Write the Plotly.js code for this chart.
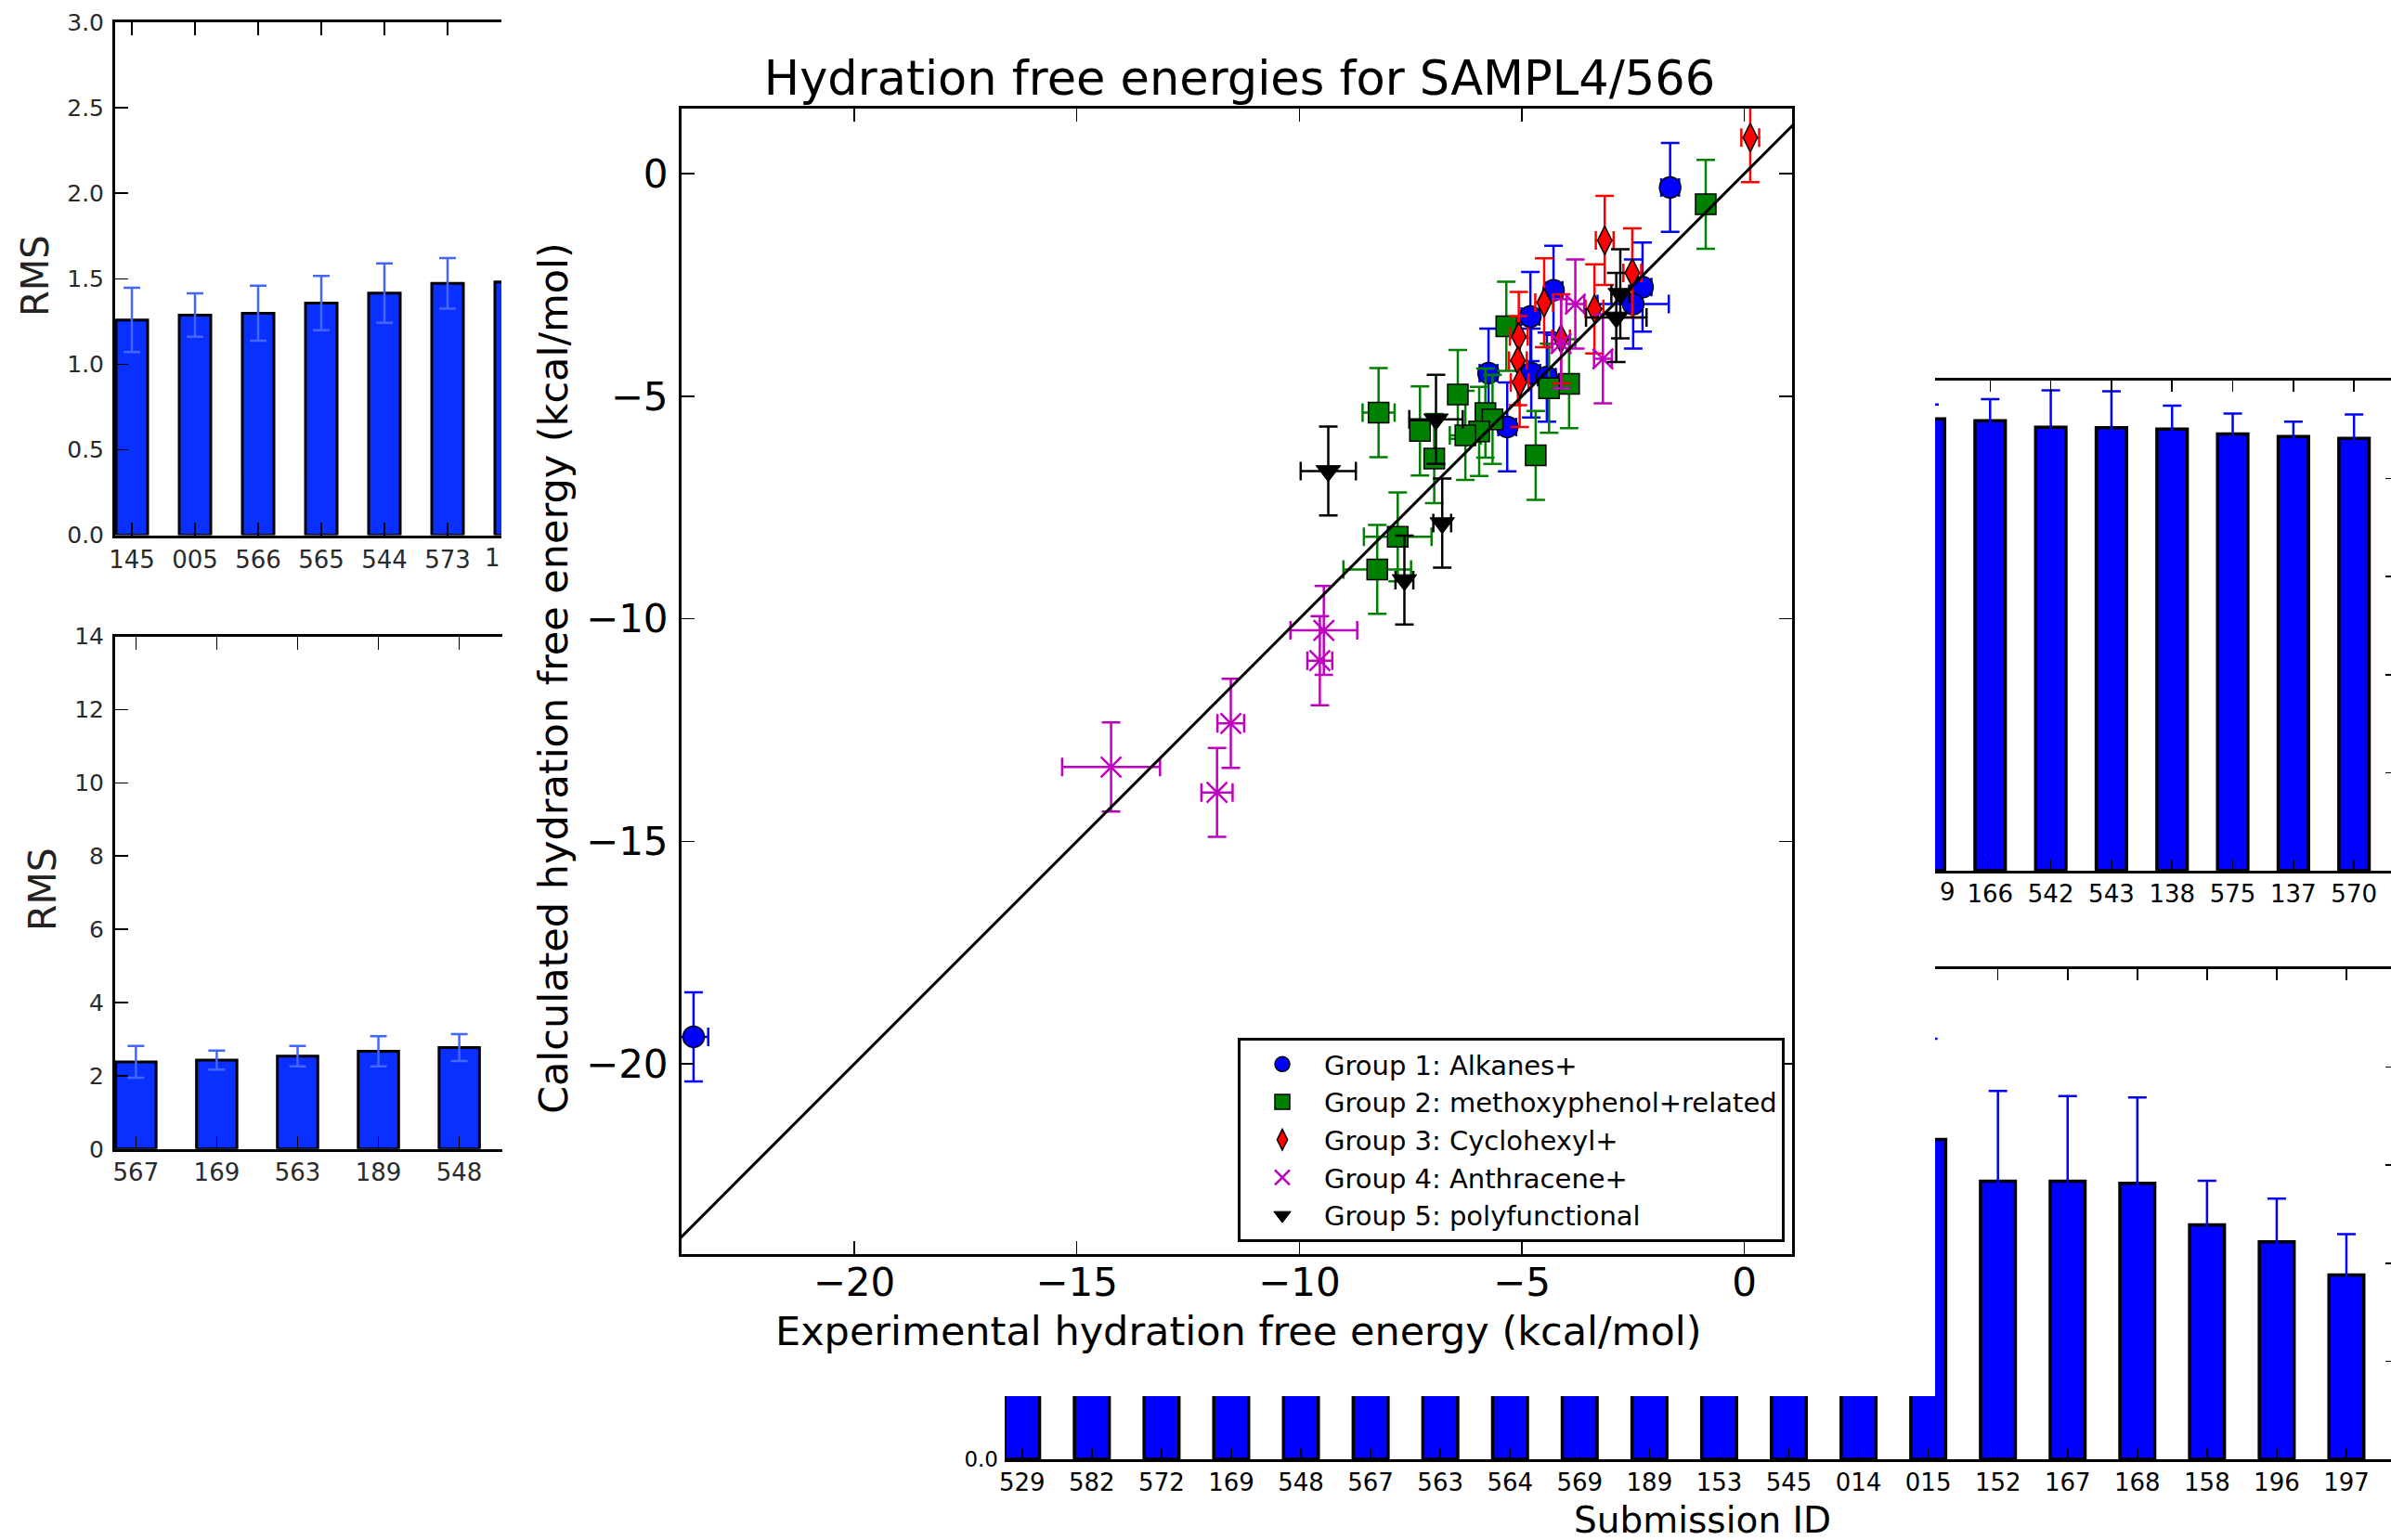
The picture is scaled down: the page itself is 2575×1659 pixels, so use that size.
<!DOCTYPE html>
<html>
<head>
<meta charset="utf-8">
<script src="https://cdn.plot.ly/plotly-3.0.1.min.js"></script>
<style>html,body{margin:0;padding:0;background:#fff}#chart{width:2575px;height:1659px}</style>
</head>
<body>
<div id="chart"></div>
<script>
// ---------------- DATA ----------------
// Top-left panel (RMS)
const rmsA_ids = ['145', '005', '566', '565', '544', '573', '1'];
const rmsA_vals = [1.259, 1.287, 1.298, 1.357, 1.416, 1.473, 1.481];
const rmsA_err = [0.188, 0.127, 0.161, 0.159, 0.174, 0.148, 0.247];

// Middle-left panel (RMS)
const rmsB_ids = ['567', '169', '563', '189', '548'];
const rmsB_vals = [2.38, 2.43, 2.535, 2.67, 2.77];
const rmsB_err = [0.435, 0.26, 0.28, 0.41, 0.365];

// Right-top panel
const panelC_ids = ['179', '166', '542', '543', '138', '575', '137', '570'];
const panelC_vals = [0.922, 0.918, 0.905, 0.904, 0.901, 0.891, 0.886, 0.882];
const panelC_err = [0.029, 0.044, 0.075, 0.074, 0.048, 0.042, 0.030, 0.049];

// Bottom chart (Submission ID)
const subIds = ['529', '582', '572', '169', '548', '567', '563', '564', '569', '189',
                '153', '545', '014', '015', '152', '167', '168', '158', '196', '197'];
const subVals = [2.35, 2.2, 2.1, 2.05, 2.0, 1.95, 1.9, 1.85, 1.8, 1.78,
                 1.75, 1.72, 1.68, 1.631, 1.418, 1.418, 1.407, 1.196, 1.109, 0.940];
const subErr = [0.3, 0.3, 0.3, 0.3, 0.3, 0.3, 0.3, 0.3, 0.3, 0.3,
                0.3, 0.3, 0.3, 0.514, 0.461, 0.435, 0.438, 0.224, 0.220, 0.208];

// Partially cut tick-label fragments visible at the cropped panel edges
const cutLabelA = '1';
const cutLabelC = '9';

// Central scatter: hydration free energies (experimental x, calculated y)
const g1_exp = [-1.67, -2.29, -2.50, -4.29, -4.81, -5.75, -4.79, -4.44, -5.33, -23.61];
const g1_calc = [-0.31, -2.55, -2.93, -2.62, -3.21, -4.48, -4.48, -4.57, -5.69, -19.39];
const g1_expErr = [0.2, 0.2, 0.8, 0.2, 0.2, 0.2, 0.2, 0.2, 0.2, 0.33];
const g1_calcErr = [1.0, 1.0, 1.0, 1.0, 1.0, 1.0, 1.0, 1.0, 1.0, 1.0];

const g2_exp = [-0.87, -5.35, -3.94, -4.39, -6.44, -8.22, -7.29, -6.97, -5.82, -5.66, -5.96, -6.27, -4.69, -7.79, -8.25];
const g2_calc = [-0.69, -3.43, -4.72, -4.82, -4.96, -5.37, -5.78, -6.40, -5.38, -5.52, -5.79, -5.88, -6.33, -8.16, -8.89];
const g2_expErr = [0.2, 0.2, 0.2, 0.2, 0.2, 0.36, 0.2, 0.2, 0.2, 0.2, 0.2, 0.35, 0.2, 0.76, 0.76];
const g2_calcErr = [1.0, 1.0, 1.0, 1.0, 1.0, 1.0, 1.0, 1.0, 1.0, 1.0, 1.0, 1.0, 1.0, 1.0, 1.0];

const g3_exp = [0.13, -3.14, -2.52, -3.37, -4.50, -5.07, -5.09, -5.05, -4.12];
const g3_calc = [0.81, -1.50, -2.23, -3.04, -2.90, -3.66, -4.20, -4.69, -3.71];
const g3_expErr = [0.2, 0.2, 0.2, 0.2, 0.2, 0.2, 0.2, 0.2, 0.2];
const g3_calcErr = [1.0, 1.0, 1.0, 1.0, 1.0, 1.0, 1.0, 1.0, 1.0];

const g4_exp = [-3.80, -3.18, -4.12, -14.23, -11.54, -11.85, -9.45, -9.54];
const g4_calc = [-2.93, -4.16, -3.82, -13.33, -12.35, -13.90, -10.26, -10.94];
const g4_expErr = [0.2, 0.2, 0.2, 1.1, 0.3, 0.35, 0.75, 0.28];
const g4_calcErr = [1.0, 1.0, 1.0, 1.0, 1.0, 1.0, 1.0, 1.0];

const g5_exp = [-2.79, -2.88, -6.93, -9.35, -6.79, -7.64];
const g5_calc = [-2.70, -3.23, -5.52, -6.68, -7.85, -9.13];
const g5_expErr = [0.2, 0.68, 0.6, 0.62, 0.2, 0.2];
const g5_calcErr = [1.0, 1.0, 1.0, 1.0, 1.0, 1.0];

const groupNames = ['Group 1: Alkanes+', 'Group 2: methoxyphenol+related', 'Group 3: Cyclohexyl+',
                    'Group 4: Anthracene+', 'Group 5: polyfunctional'];
const diagLine = [-26, 3];

// ---------------- LAYOUT HELPERS ----------------
const W = 2575, H = 1659;
const dx = (a, b) => [a / W, b / W];
const dy = (top, bottom) => [1 - bottom / H, 1 - top / H];
const FONT = 'DejaVu Sans';

function ax(extra) {
  return Object.assign({
    showgrid: false, zeroline: false, showline: true, linecolor: '#000', linewidth: 3,
    ticks: 'inside', tickcolor: '#000', tickwidth: 1.5, ticklen: 12, fixedrange: true,
    tickfont: { family: FONT, size: 26, color: '#000' }
  }, extra);
}

function barTrace(ids, vals, errs, xa, ya, color, errColor, capW, lw) {
  return {
    type: 'bar', x: ids, y: vals, xaxis: xa, yaxis: ya, width: 0.5,
    marker: { color: color, line: { color: '#000', width: lw } },
    error_y: { type: 'data', array: errs, visible: true, color: errColor, thickness: 2.5, width: capW },
    showlegend: false, hoverinfo: 'skip'
  };
}

function groupTrace(name, xs, ys, xe, ye, symbol, size, fill, edge, edgeW, errColor) {
  return {
    type: 'scatter', mode: 'markers', name: name, x: xs, y: ys, xaxis: 'x6', yaxis: 'y6',
    marker: { symbol: symbol, size: size, color: fill, line: { color: edge, width: edgeW } },
    error_x: { type: 'data', array: xe, visible: true, color: errColor, thickness: 2.5, width: 10 },
    error_y: { type: 'data', array: ye, visible: true, color: errColor, thickness: 2.5, width: 10 },
    hoverinfo: 'skip'
  };
}

const blueL = '#0a30ff', errL = '#4466ff';
const traces = [
  // bottom chart, strip part and right part
  barTrace(subIds, subVals, subErr, 'x', 'y', '#0000ff', '#0000ff', 10, 3.5),
  barTrace(subIds, subVals, subErr, 'x2', 'y2', '#0000ff', '#0000ff', 10, 3.5),
  // right-top panel
  barTrace(panelC_ids, panelC_vals, panelC_err, 'x3', 'y3', '#0000ff', '#0000ff', 10, 3.5),
  // left panels
  barTrace(rmsA_ids, rmsA_vals, rmsA_err, 'x4', 'y4', blueL, errL, 9, 3),
  barTrace(rmsB_ids, rmsB_vals, rmsB_err, 'x5', 'y5', blueL, errL, 9, 3),
  // central scatter
  groupTrace(groupNames[0], g1_exp, g1_calc, g1_expErr, g1_calcErr, 'circle', 23, '#0000ff', '#000', 1.5, '#0000ff'),
  groupTrace(groupNames[1], g2_exp, g2_calc, g2_expErr, g2_calcErr, 'square', 22, '#008000', '#000', 1.5, '#008000'),
  groupTrace(groupNames[2], g3_exp, g3_calc, g3_expErr, g3_calcErr, 'diamond-tall', 22, '#ff0000', '#000', 1.5, '#ff0000'),
  groupTrace(groupNames[3], g4_exp, g4_calc, g4_expErr, g4_calcErr, 'x-thin', 22, '#bf00bf', '#bf00bf', 2.5, '#bf00bf'),
  groupTrace(groupNames[4], g5_exp, g5_calc, g5_expErr, g5_calcErr, 'triangle-down', 23, '#000000', '#000', 1, '#000000'),
  {
    type: 'scatter', mode: 'lines', x: diagLine, y: diagLine, xaxis: 'x6', yaxis: 'y6',
    line: { color: '#000', width: 3 }, showlegend: false, hoverinfo: 'skip'
  }
];

const grayTick = { family: FONT, size: 26, color: '#2a2a2a' };

const layout = {
  width: W, height: H,
  margin: { l: 0, r: 0, t: 0, b: 0 },
  paper_bgcolor: '#fff', plot_bgcolor: '#fff',
  font: { family: FONT, color: '#000' },
  showlegend: true,
  title: {
    text: 'Hydration free energies for SAMPL4/566',
    x: 1335 / W, y: 1 - 84 / H, xref: 'paper', yref: 'paper', xanchor: 'center', yanchor: 'middle',
    font: { family: FONT, size: 51, color: '#000' }
  },
  // bottom chart: visible strip
  xaxis: ax({ type: 'category', domain: dx(1082, 2084), range: [-0.25, 13.098], anchor: 'y',
              ticklabelstandoff: 0 }),
  yaxis: ax({ domain: dy(1504, 1572), range: [0, 0.322], anchor: 'x', showline: false, ticks: '',
              tickvals: [0], ticktext: ['0.0'], ticklabelstandoff: 6,
              tickfont: { family: FONT, size: 23, color: '#000' } }),
  // bottom chart: right part
  xaxis2: ax({ type: 'category', domain: dx(2084, 2575), range: [13.098, 19.64], anchor: 'y2',
               mirror: 'ticks', ticklabelstandoff: 0 }),
  yaxis2: ax({ domain: dy(1044, 1572), range: [0, 2.5], dtick: 0.5, anchor: 'x2', side: 'right',
               showline: false, ticklen: 6, showticklabels: false }),
  // right-top panel
  xaxis3: ax({ type: 'category', domain: dx(2084, 2575), range: [0.092, 7.61], anchor: 'y3',
               mirror: 'ticks', ticklabelstandoff: 0 }),
  yaxis3: ax({ domain: dy(410, 938), range: [0, 1.0], dtick: 0.2, anchor: 'x3', side: 'right',
               showline: false, ticklen: 6, showticklabels: false }),
  // top-left panel
  xaxis4: ax({ type: 'category', domain: dx(124, 540), range: [-0.265, 5.853], anchor: 'y4',
               mirror: 'ticks', ticklen: 14, tickfont: grayTick, ticklabelstandoff: 1 }),
  yaxis4: ax({ domain: dy(24, 576.5), range: [0, 3.0], dtick: 0.5, tickformat: '.1f', anchor: 'x4',
               ticklen: 14, tickfont: { family: FONT, size: 25, color: '#2a2a2a' }, ticklabelstandoff: 4 }),
  // middle-left panel
  xaxis5: ax({ type: 'category', domain: dx(124, 541), range: [-0.257, 4.533], anchor: 'y5',
               mirror: 'ticks', ticklen: 14, tickfont: grayTick, ticklabelstandoff: 0 }),
  yaxis5: ax({ domain: dy(685.5, 1237.8), range: [0, 14], dtick: 2, anchor: 'x5',
               ticklen: 14, tickfont: { family: FONT, size: 25, color: '#2a2a2a' }, ticklabelstandoff: 4 }),
  // central scatter
  xaxis6: ax({ domain: dx(734, 1930), range: [-23.88, 1.07], dtick: 5, tick0: 0, anchor: 'y6',
               mirror: 'ticks', ticklen: 14, ticklabelstandoff: -8,
               tickfont: { family: FONT, size: 42, color: '#000' } }),
  yaxis6: ax({ domain: dy(117, 1351), range: [-24.27, 1.46], dtick: 5, tick0: 0, anchor: 'x6',
               mirror: 'ticks', ticklen: 14, ticklabelstandoff: 3,
               tickfont: { family: FONT, size: 42, color: '#000' } }),
  legend: {
    x: 1333 / W, y: 1 - 1118 / H, xanchor: 'left', yanchor: 'top',
    bgcolor: '#fff', bordercolor: '#000', borderwidth: 3,
    font: { family: FONT, size: 29, color: '#000' },
    itemwidth: 80, tracegroupgap: 0
  },
  annotations: [
    { text: 'Experimental hydration free energy (kcal/mol)', x: 1333 / W, y: 1 - 1434 / H,
      xref: 'paper', yref: 'paper', xanchor: 'center', yanchor: 'middle', showarrow: false,
      font: { family: FONT, size: 43, color: '#000' } },
    { text: 'Calculated hydration free energy (kcal/mol)', x: 596 / W, y: 1 - 731 / H, textangle: -90,
      xref: 'paper', yref: 'paper', xanchor: 'center', yanchor: 'middle', showarrow: false,
      font: { family: FONT, size: 43, color: '#000' } },
    { text: 'RMS', x: 38 / W, y: 1 - 297 / H, textangle: -90,
      xref: 'paper', yref: 'paper', xanchor: 'center', yanchor: 'middle', showarrow: false,
      font: { family: FONT, size: 40, color: '#222' } },
    { text: 'RMS', x: 46 / W, y: 1 - 958 / H, textangle: -90,
      xref: 'paper', yref: 'paper', xanchor: 'center', yanchor: 'middle', showarrow: false,
      font: { family: FONT, size: 41, color: '#222' } },
    { text: 'Submission ID', x: 1834 / W, y: 1 - 1637 / H,
      xref: 'paper', yref: 'paper', xanchor: 'center', yanchor: 'middle', showarrow: false,
      font: { family: FONT, size: 39, color: '#000' } },
    { text: cutLabelA, x: 541 / W, y: 1 - 601 / H,
      xref: 'paper', yref: 'paper', xanchor: 'right', yanchor: 'middle', showarrow: false,
      font: { family: FONT, size: 26, color: '#2a2a2a' } },
    { text: cutLabelC, x: 2108 / W, y: 1 - 961 / H,
      xref: 'paper', yref: 'paper', xanchor: 'right', yanchor: 'middle', showarrow: false,
      font: { family: FONT, size: 26, color: '#000' } }
  ]
};

Plotly.newPlot('chart', traces, layout, { staticPlot: true, displayModeBar: false });
</script>
</body>
</html>
